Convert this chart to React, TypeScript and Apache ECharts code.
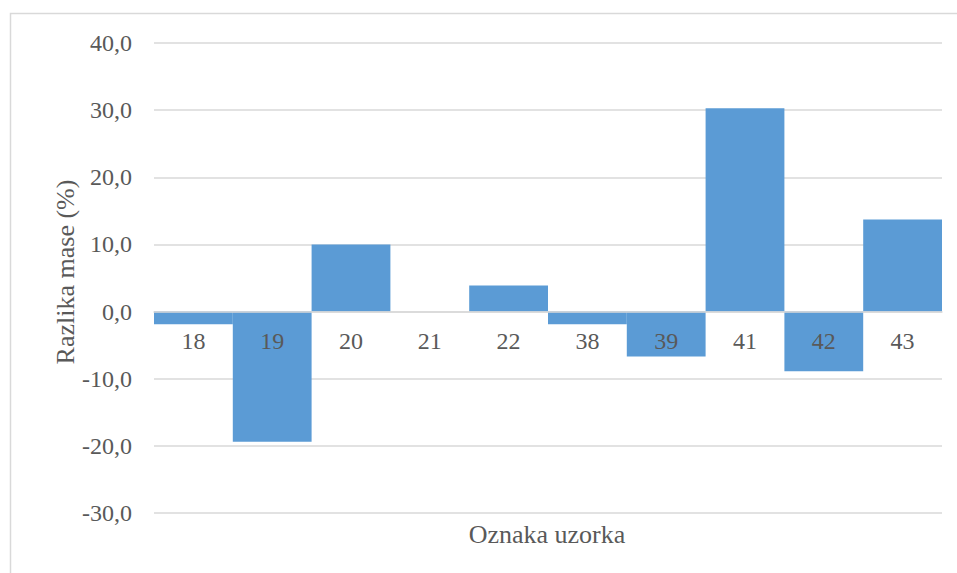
import React, { useEffect, useRef } from "react";
import * as echarts from "echarts";

const categories = ["18", "19", "20", "21", "22", "38", "39", "41", "42", "43"];
const values = [-1.9, -19.4, 10.0, 0, 3.9, -1.9, -6.7, 30.3, -8.9, 13.7];
const yTicks = { min: -30, max: 40, interval: 10 };
const xAxisTitle = "Oznaka uzorka";
const yAxisTitle = "Razlika mase (%)";

const FONT = "Times New Roman, Liberation Serif, serif";
const TEXT = "#595959";
const GRID = "#d9d9d9";

const GRID_TOP = 43;
const GRID_BOTTOM = 60;
const CHART_H = 573;

export default function App() {
  const ref = useRef<HTMLDivElement>(null);
  useEffect(() => {
    document.body.style.margin = "0";
    const chart = echarts.init(ref.current!, null, { renderer: "svg" });
    const plotH = CHART_H - GRID_TOP - GRID_BOTTOM;
    const zeroFromBottom = plotH * (0 - yTicks.min) / (yTicks.max - yTicks.min);
    chart.setOption({
      animation: false,
      backgroundColor: "#ffffff",
      textStyle: { fontFamily: FONT },
      grid: { left: 154, right: 15, top: GRID_TOP, bottom: GRID_BOTTOM },
      xAxis: {
        type: "category",
        data: categories,
        offset: -zeroFromBottom,
        axisLine: { onZero: false, lineStyle: { color: GRID, width: 1.5 } },
        axisTick: { show: false },
        axisLabel: { color: TEXT, fontFamily: FONT, fontSize: 24, margin: 17 },
        z: 5,
      },
      yAxis: {
        type: "value",
        min: yTicks.min,
        max: yTicks.max,
        interval: yTicks.interval,
        axisLine: { show: false },
        axisTick: { show: false },
        splitLine: { lineStyle: { color: GRID, width: 1.5 } },
        axisLabel: {
          color: TEXT,
          fontFamily: FONT,
          fontSize: 24,
          margin: 22,
          formatter: (v: number) => v.toFixed(1).replace(".", ","),
        },
      },
      series: [
        {
          type: "bar",
          data: values,
          barCategoryGap: "0%",
          z: 2,
          itemStyle: { color: "#5b9bd5" },
        },
      ],
      graphic: [
        {
          type: "rect",
          shape: { x: 10.5, y: 13.5, width: 1000, height: 1000 },
          style: { fill: "none", stroke: GRID, lineWidth: 1.5 },
          silent: true,
        },
        {
          type: "text",
          x: 547,
          y: 534,
          style: {
            text: xAxisTitle,
            fontFamily: FONT,
            fontSize: 26,
            fill: TEXT,
            align: "center",
            verticalAlign: "middle",
          },
        },
        {
          type: "text",
          x: 65,
          y: 272,
          rotation: Math.PI / 2,
          style: {
            text: yAxisTitle,
            fontFamily: FONT,
            fontSize: 26,
            fill: TEXT,
            align: "center",
            verticalAlign: "middle",
          },
        },
      ],
    });
    return () => chart.dispose();
  }, []);
  return <div ref={ref} style={{ width: 957, height: 573 }} />;
}
